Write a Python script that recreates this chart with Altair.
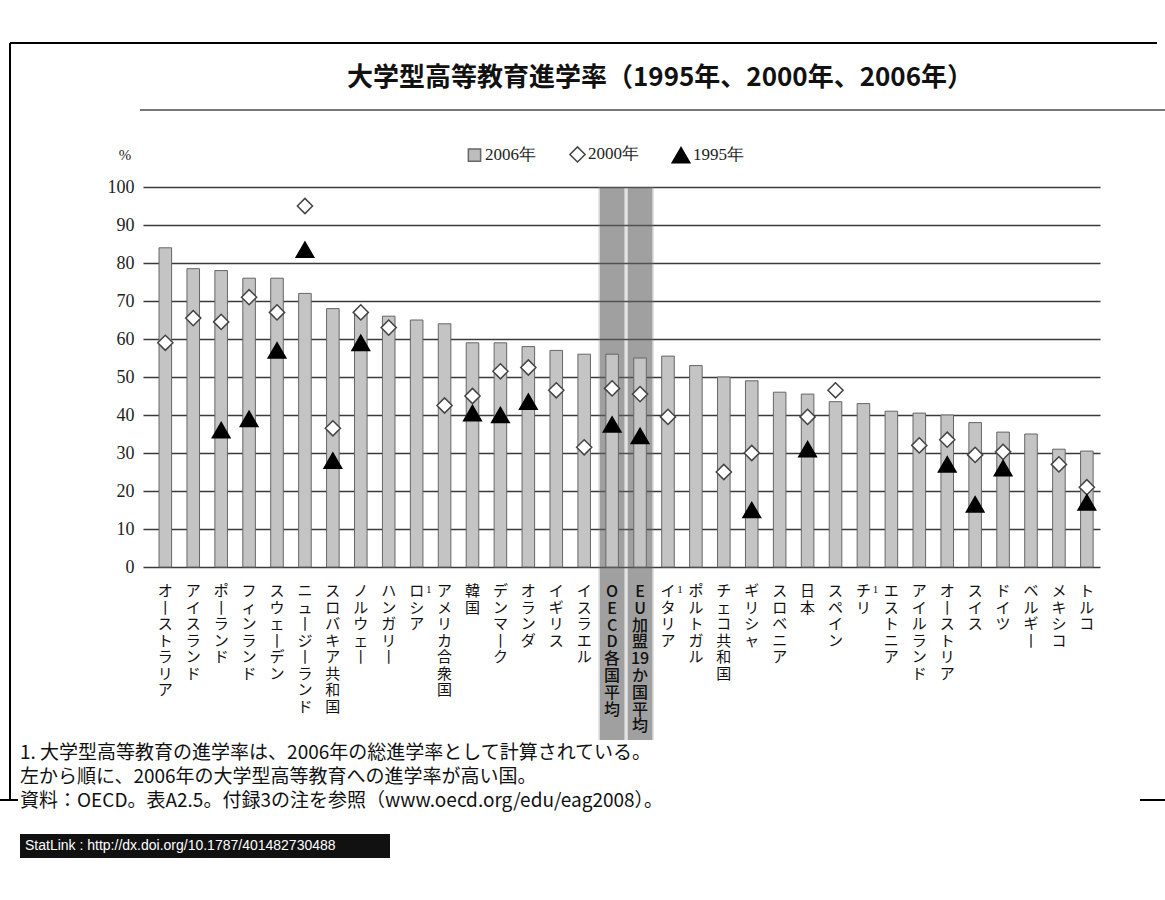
import altair as alt
import pandas as pd

# ---------------- data ----------------
countries = ["オーストラリア", "アイスランド", "ポーランド", "フィンランド", "スウェーデン",
             "ニュージーランド", "スロバキア共和国", "ノルウェー", "ハンガリー", "ロシア",
             "アメリカ合衆国", "韓国", "デンマーク", "オランダ", "イギリス", "イスラエル",
             "OECD各国平均", "EU加盟19か国平均", "イタリア", "ポルトガル", "チェコ共和国",
             "ギリシャ", "スロベニア", "日本", "スペイン", "チリ", "エストニア",
             "アイルランド", "オーストリア", "スイス", "ドイツ", "ベルギー", "メキシコ", "トルコ"]
rate_2006 = [84, 78.5, 78, 76, 76, 72, 68, 67, 66, 65,
             64, 59, 59, 58, 57, 56, 56, 55, 55.5, 53, 50,
             49, 46, 45.5, 43.5, 43, 41, 40.5, 40, 38, 35.5, 35, 31, 30.5]
rate_2000 = [59, 65.5, 64.5, 71, 67, 95, 36.5, 67, 63, None,
             42.5, 45, 51.5, 52.5, 46.5, 31.5, 47, 45.5, 39.5, None, 25,
             30, None, 39.5, 46.5, None, None, 32, 33.5, 29.5, 30.3, None, 27, 21]
rate_1995 = [None, None, 36, 39, 57, 83.5, 28, 59, None, None,
             None, 40.5, 40, 43.5, None, None, 37.5, 34.5, None, None, None,
             15, None, 31, None, None, None, None, 27, 16.5, 26, None, None, 17]
averages = ["OECD各国平均", "EU加盟19か国平均"]
footnote_one = ["ロシア", "イタリア", "チリ"]
series_names = ["2006年", "2000年", "1995年"]
y_ticks = [0, 10, 20, 30, 40, 50, 60, 70, 80, 90, 100]

title_text = "大学型高等教育進学率（1995年、2000年、2006年）"
notes = ["1. 大学型高等教育の進学率は、2006年の総進学率として計算されている。",
         "左から順に、2006年の大学型高等教育への進学率が高い国。",
         "資料：OECD。表A2.5。付録3の注を参照（www.oecd.org/edu/eag2008）。"]
statlink = "StatLink : http://dx.doi.org/10.1787/401482730488"


def vertical(s):
    """Stack characters one per line (tate-gaki), keeping digit runs together."""
    out, buf = [], ""
    for ch in s:
        if ch.isdigit():
            buf += ch
            continue
        if buf:
            out.append(buf)
            buf = ""
        out.append("丨" if ch == "ー" else ch)
    if buf:
        out.append(buf)
    return "\n".join(out)


df = pd.DataFrame({
    "country": countries,
    "v2006": rate_2006,
    "label": [vertical(c) for c in countries],
    "avg": [c in averages for c in countries],
    "fn": ["1" if c in footnote_one else "" for c in countries],
})

pts_rows = []
for c, a, b in zip(countries, rate_2000, rate_1995):
    if a is not None:
        pts_rows.append({"country": c, "series": "2000年", "value": a})
    if b is not None:
        pts_rows.append({"country": c, "series": "1995年", "value": b})
pts = pd.DataFrame(pts_rows)

# ---------------- layout ----------------
W, H = 957, 380
PAD_L, PAD_T = 143, 187
JP = "Noto Sans CJK JP"
SERIF = "Liberation Serif"

xenc = alt.X("country:N", sort=countries,
             scale=alt.Scale(paddingInner=0.55, paddingOuter=0.41, align=0.7),
             axis=None)
yscale = alt.Scale(domain=[0, 100], nice=False)

one = pd.DataFrame({"k": [0]})
BAND_BOTTOM = 553

# average-band highlight
band_light = alt.Chart(df).transform_filter(alt.datum.avg).mark_bar(
    fill="#888888", opacity=0.28, width=alt.RelativeBandSize(2.2)
).encode(x=xenc, y=alt.value(0), y2=alt.value(BAND_BOTTOM))
band_dark = alt.Chart(df).transform_filter(alt.datum.avg).mark_bar(
    fill="#555555", opacity=0.45, width=alt.RelativeBandSize(1.95)
).encode(x=xenc, y=alt.value(0), y2=alt.value(BAND_BOTTOM))

bars = alt.Chart(df).mark_bar(fill="#c4c4c4", stroke="#666666", strokeWidth=1).encode(
    x=xenc,
    y=alt.Y("v2006:Q", scale=yscale,
            axis=alt.Axis(values=y_ticks, title=None, grid=True, gridColor="#3a3a3a",
                          gridWidth=1.3, domain=False, ticks=False, labelFont=SERIF,
                          labelFontSize=18, labelPadding=9, labelColor="#222222")),
)

points = alt.Chart(pts).mark_point(filled=True, strokeWidth=1.5, opacity=1).encode(
    x=xenc,
    y=alt.Y("value:Q", scale=yscale, axis=None),
    shape=alt.Shape("series:N", title=None,
                    scale=alt.Scale(domain=series_names,
                                    range=["square", "diamond", "triangle-up"])),
    fill=alt.Fill("series:N", title=None,
                  scale=alt.Scale(domain=series_names,
                                  range=["#bdbdbd", "#ffffff", "#000000"])),
    stroke=alt.Stroke("series:N", title=None,
                      scale=alt.Scale(domain=series_names,
                                      range=["#666666", "#444444", "#000000"])),
    size=alt.Size("series:N", title=None,
                  scale=alt.Scale(domain=series_names, range=[150, 310, 125])),
)

labels = alt.Chart(df).transform_filter(~alt.datum.avg).mark_text(
    font=JP, fontSize=15, lineHeight=16.5, baseline="top", align="center",
    lineBreak="\n", color="#111111"
).encode(x=xenc, y=alt.value(397), text="label:N")

avg_labels = alt.Chart(df).transform_filter(alt.datum.avg).mark_text(
    font=JP, fontSize=16, fontWeight=500, lineHeight=16.8, baseline="top",
    align="center", lineBreak="\n", color="#111111"
).encode(x=xenc, y=alt.value(397), text="label:N")

fn_marks = alt.Chart(df).transform_filter("datum.fn != ''").mark_text(
    font=SERIF, fontSize=11, baseline="top", align="center", dx=12, color="#111111"
).encode(x=xenc, y=alt.value(397), text="fn:N")

title = alt.Chart(pd.DataFrame({"t": [title_text]})).mark_text(
    font=JP, fontSize=26, fontWeight="bold", align="center", baseline="middle",
    color="#111111"
).encode(x=alt.value(517), y=alt.value(-109), text="t:N")

pct = alt.Chart(pd.DataFrame({"t": ["%"]})).mark_text(
    font=SERIF, fontSize=15, align="center", baseline="middle", color="#222222"
).encode(x=alt.value(-18), y=alt.value(-32), text="t:N")

note_layers = []
for i, t in enumerate(notes):
    note_layers.append(
        alt.Chart(pd.DataFrame({"t": [t]})).mark_text(
            font=JP, fontSize=19, align="left", baseline="middle", color="#111111"
        ).encode(x=alt.value(-123), y=alt.value(566 + 24 * i), text="t:N")
    )

stat_box = alt.Chart(one).mark_rect(fill="#111111").encode(
    x=alt.value(-123), x2=alt.value(247), y=alt.value(647), y2=alt.value(671))
stat_text = alt.Chart(pd.DataFrame({"t": [statlink]})).mark_text(
    font="Liberation Sans", fontSize=14, align="left", baseline="middle", color="#ffffff"
).encode(x=alt.value(-118), y=alt.value(659), text="t:N")

rule_title = alt.Chart(one).mark_rule(color="#777777", strokeWidth=2).encode(
    x=alt.value(-3), x2=alt.value(1022), y=alt.value(-77))
frame_top = alt.Chart(one).mark_rule(color="#000000", strokeWidth=2).encode(
    x=alt.value(-133), x2=alt.value(1014), y=alt.value(-144))
frame_left = alt.Chart(one).mark_rule(color="#000000", strokeWidth=2).encode(
    x=alt.value(-133), y=alt.value(-144), y2=alt.value(613))
frame_b1 = alt.Chart(one).mark_rule(color="#000000", strokeWidth=2).encode(
    x=alt.value(-143), x2=alt.value(-125), y=alt.value(613))
frame_b2 = alt.Chart(one).mark_rule(color="#000000", strokeWidth=2).encode(
    x=alt.value(997), x2=alt.value(1022), y=alt.value(613))

chart = alt.layer(
    band_light, band_dark, bars, points, labels, avg_labels, fn_marks,
    title, pct, *note_layers, stat_box, stat_text,
    rule_title, frame_top, frame_left, frame_b1, frame_b2,
).resolve_scale(y="independent").properties(
    width=W, height=H,
    autosize=alt.AutoSizeParams(type="none"),
    padding={"left": PAD_L, "top": PAD_T, "right": 1165 - PAD_L - W, "bottom": 900 - PAD_T - H},
    background="#ffffff",
).configure_view(strokeWidth=0).configure_legend(
    orient="none", legendX=323, legendY=-42, direction="horizontal",
    labelFont=SERIF, labelFontSize=17, labelColor="#222222",
    symbolStrokeWidth=1.5, columnPadding=30, labelOffset=2,
)

chart.save("out.html", embed_options={"renderer": "svg", "actions": False})
